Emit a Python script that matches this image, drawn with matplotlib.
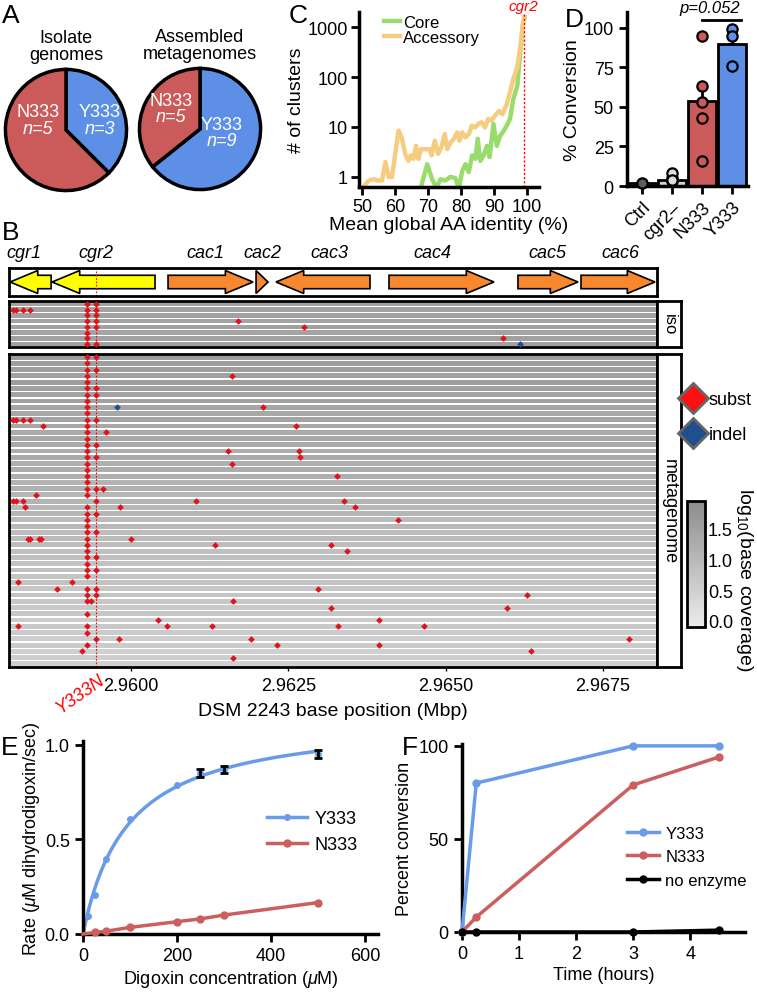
import numpy as np
import matplotlib
matplotlib.use('Agg')
import matplotlib.pyplot as plt
from matplotlib.patches import FancyArrow
from matplotlib.colors import LinearSegmentedColormap, Normalize
from matplotlib.cm import ScalarMappable
from matplotlib.lines import Line2D

plt.rcParams['font.family'] = ['Liberation Sans', 'DejaVu Sans']
plt.rcParams['mathtext.fontset'] = 'custom'
plt.rcParams['mathtext.rm'] = 'Liberation Sans'
plt.rcParams['mathtext.it'] = 'Liberation Sans:italic'

RED = '#CB5B5B'
BLUE = '#5D8FE6'

# ---------------- data ----------------
# A: pie counts (Y333, N333)
iso_counts = [3, 5]
meta_counts = [9, 5]

# C: number of clusters vs mean global AA identity
acc_x = [50, 52, 53.5, 54.5, 56, 57, 58, 59, 61, 62, 63, 64, 64.7, 65.5, 66.3, 67, 67.8,
         69, 70.5, 71, 72, 73, 74, 75, 75.8, 76.8, 77.8, 78.8, 79.5, 80.3, 81.3, 82.3,
         83.2, 84.2, 85.2, 86.2, 87.2, 88.2, 89.2, 90.2, 91.5, 92.5, 93.7, 94.8, 95.8,
         97, 98, 98.8, 99.2]
acc_y = [0.6, 0.85, 0.9, 0.85, 0.85, 2, 1, 1, 8.5, 6, 2.9, 2.1, 2.7, 2.3, 4.2, 2.3, 3.6,
         3.6, 3.6, 2.7, 5.3, 2.9, 3.9, 7.2, 3.6, 4.9, 5.8, 7.8, 5.3, 7.8, 6.2, 7.2,
         10.6, 9.8, 11.5, 12.4, 9.8, 14.5, 13.4, 16.8, 21, 18, 27, 50, 91,
         158, 420, 1260, 1600]
core_x = [67.7, 69.7, 71.2, 72.5, 73.7, 75.2, 76.7, 78.2, 79.3, 80.3, 81.3, 82.3, 83.3,
          84.3, 85, 85.8, 86.8, 87.8, 88.6, 89.8, 90.8, 91.8, 92.7, 93.6, 94.8, 95.8,
          97, 98, 98.8, 99.2]
core_y = [0.6, 1.8, 0.9, 0.6, 0.9, 0.85, 1.0, 0.95, 0.6, 1.3, 1.8, 1.25, 2.7,
          2.3, 5.8, 2.1, 2.7, 4.2, 2.5, 11.5, 4.2, 6.6, 8, 10, 14.5, 36,
          66, 360, 1260, 1500]
cgr2_identity = 99

# D: % conversion
d_groups = ['Ctrl', 'cgr2–', 'N333', 'Y333']
d_means = [2, 4, 54, 90]
d_err = [0, 1.5, 10, 7]
d_points = [[2], [3, 5, 8, 4], [95, 63, 53, 43, 16], [99, 95, 76]]
d_bar_colors = ['#8a8a8a', '#d4d4d4', RED, BLUE]
d_pt_colors = ['#5e5e5e', '#dedede', RED, BLUE]
p_label = 'p=0.052'

# B: gene track (Mbp)
gene_names = ['cgr1', 'cgr2', 'cac1', 'cac2', 'cac3', 'cac4', 'cac5', 'cac6']
gene_start = [2.958729, 2.960381, 2.960588, 2.961987, 2.963798, 2.964100, 2.966150, 2.967152]
gene_end = [2.958077, 2.958744, 2.961939, 2.962177, 2.962304, 2.965769, 2.967104, 2.968328]
gene_colors = ['#FFFF00', '#FFFF00', '#F7882F', '#F7882F', '#F7882F', '#F7882F', '#F7882F', '#F7882F']
gene_label_pos = [2.958290, 2.959444, 2.961176, 2.962082, 2.963147, 2.964785, 2.966612, 2.967772]
y333n_pos = 2.959444
b_xlim = (2.95806, 2.96836)
b_ticks = [2.96, 2.9625, 2.965, 2.9675]
b_ticklabels = ['2.9600', '2.9625', '2.9650', '2.9675']

iso_cov = [1.5, 1.45, 1.5, 1.45, 1.5, 1.45, 1.5, 1.5]
meta_cov = [1.6, 1.55, 1.55, 1.5, 1.55, 1.5, 1.45, 1.5, 1.4, 1.35,
            1.45, 1.35, 1.3, 1.35, 1.3, 1.25, 1.3, 1.2, 1.25, 1.2,
            1.1, 1.15, 1.05, 1.1, 1.0, 1.05, 0.95, 1.0, 0.9, 0.95,
            0.9, 0.85, 0.85, 0.8, 0.85, 0.75, 0.8, 0.7, 0.75, 0.7,
            0.65, 0.7, 0.6, 0.65, 0.6, 0.55, 0.6, 0.5, 0.55, 0.5]

iso_subst_row = [0, 0, 1, 1, 1, 1, 1, 1, 2, 2, 3, 3, 3, 4, 4, 4, 5, 6, 7, 7, 6]
iso_subst_pos = [2.959301, 2.959444, 2.958125, 2.958172, 2.958284, 2.958395, 2.959301, 2.959444,
                 2.959301, 2.959444, 2.959301, 2.959444, 2.961701, 2.959301, 2.959444, 2.962749,
                 2.959301, 2.959301, 2.959301, 2.959444, 2.965912]
iso_indel_row = [7]
iso_indel_pos = [2.966182]

# metagenome substitutions (row, position)
meta_subst = [
    (0, 2.959301), (0, 2.959444), (1, 2.959301), (2, 2.959301), (2, 2.959444),
    (3, 2.959301), (3, 2.961605), (4, 2.959301), (5, 2.959301), (5, 2.959444),
    (6, 2.959301), (6, 2.959444), (7, 2.959301), (8, 2.959301), (8, 2.962098),
    (9, 2.959301),
    (10, 2.958125), (10, 2.958172), (10, 2.958284), (10, 2.958395), (10, 2.959301), (10, 2.959444),
    (11, 2.958601), (11, 2.959301), (11, 2.962622), (12, 2.959301), (12, 2.959603),
    (13, 2.959301), (14, 2.959301), (14, 2.959444), (15, 2.959301), (15, 2.961542),
    (15, 2.962670), (16, 2.959301), (16, 2.959444), (16, 2.962686), (17, 2.959301),
    (17, 2.961605), (18, 2.959301), (19, 2.959301), (19, 2.963274),
    (20, 2.959301), (21, 2.959301), (21, 2.959444), (21, 2.959555), (22, 2.958490),
    (22, 2.959301), (23, 2.958125), (23, 2.958172), (23, 2.958284), (23, 2.959444),
    (23, 2.961033), (23, 2.963385), (24, 2.958315), (24, 2.959301), (24, 2.959825),
    (24, 2.963560), (25, 2.959301), (25, 2.959444), (26, 2.959301), (26, 2.964243),
    (27, 2.959301), (28, 2.959301), (28, 2.959444),
    (29, 2.958363), (29, 2.958395), (29, 2.958538), (29, 2.958570), (29, 2.959301),
    (29, 2.960000), (30, 2.959301), (30, 2.961335), (30, 2.963179), (31, 2.959301),
    (31, 2.963433), (32, 2.959301),
    (32, 2.959444), (33, 2.959301), (34, 2.959301), (34, 2.959444), (35, 2.959301),
    (36, 2.958204), (36, 2.959062), (37, 2.958824), (37, 2.959301), (37, 2.959444),
    (37, 2.962972), (38, 2.959301), (38, 2.959444), (38, 2.966294), (39, 2.959301),
    (39, 2.959364), (39, 2.961621), (40, 2.963179), (40, 2.965976), (41, 2.959301),
    (42, 2.960429), (42, 2.963941), (43, 2.958204), (43, 2.959301), (43, 2.960572),
    (43, 2.961287), (43, 2.963290), (43, 2.964657), (44, 2.959301), (45, 2.959444),
    (45, 2.959809), (45, 2.961907), (45, 2.967915), (46, 2.959301), (46, 2.962320),
    (46, 2.963941), (47, 2.959221), (47, 2.966357), (48, 2.961621),
]
meta_indel = [(8, 2.959778)]

# E: kinetics
conc_y333 = [10, 25, 50, 100, 200, 250, 300, 500]
rate_y333 = [0.097, 0.207, 0.395, 0.61, 0.79, 0.85, 0.87, 0.95]
err_y333 = [0, 0, 0, 0, 0, 0.02, 0.02, 0.02]
vmax_y333, km_y333 = 1.15, 95
conc_n333 = [0, 25, 50, 100, 200, 250, 300, 500]
rate_n333 = [0, 0.008, 0.015, 0.035, 0.065, 0.08, 0.10, 0.166]

# F: time course
time_h = [0, 0.25, 3, 4.5]
conv_y333 = [0, 80, 100, 100]
conv_n333 = [0, 8, 79, 94]
conv_none = [0, 0, 0, 1]

# ---------------- layout helpers ----------------
W, H = 757, 995
fig = plt.figure(figsize=(W / 100, H / 100), dpi=100)


def box(l, t, r, b):
    return fig.add_axes([l / W, 1 - b / H, (r - l) / W, (b - t) / H])


def ftext(x, y, s, **kw):
    return fig.text(x / W, 1 - y / H, s, **kw)


def prism(ax, lw=2.5):
    for s in ['top', 'right']:
        ax.spines[s].set_visible(False)
    for s in ['left', 'bottom']:
        ax.spines[s].set_linewidth(lw)
    ax.tick_params(width=2, length=6, direction='out', labelsize=13)


# ---------------- A ----------------
ftext(2, 4, 'A', fontsize=19, va='top')
for (l, t, r, b), counts, title, txt in [
        ((3, 68, 129, 194), iso_counts, 'Isolate\ngenomes',
         [(-0.46, 0.3, 'N333', 'normal'), (-0.46, 0.03, 'n=5', 'italic'),
          (0.56, 0.3, 'Y333', 'normal'), (0.56, 0.03, 'n=3', 'italic')]),
        ((137, 67, 263, 193), meta_counts, 'Assembled\nmetagenomes',
         [(-0.48, 0.47, 'N333', 'normal'), (-0.48, 0.2, 'n=5', 'italic'),
          (0.36, 0.08, 'Y333', 'normal'), (0.36, -0.19, 'n=9', 'italic')])]:
    ax = box(l, t, r, b)
    ax.pie(counts, colors=[BLUE, RED], startangle=90, counterclock=False,
           wedgeprops=dict(edgecolor='black', linewidth=2.5))
    ax.set_xlim(-1.04, 1.04)
    ax.set_ylim(-1.04, 1.04)
    for x, y, s, st in txt:
        ax.text(x, y, s, color='white', fontsize=13, style=st, ha='center', va='center')
    ax.text(0, 1.1, title, ha='center', va='bottom', fontsize=13, linespacing=1.05)

# ---------------- C ----------------
ax = box(359, 13, 539, 188)
ax.plot(core_x, core_y, color='#9ADC6C', lw=3.2, label='Core', solid_joinstyle='round')
ax.plot(acc_x, acc_y, color='#F6CC80', lw=3.2, label='Accessory', solid_joinstyle='round')
ax.set_yscale('log')
ax.set_ylim(0.63, 2000)
ax.set_xlim(49, 103.6)
ax.axvline(cgr2_identity, color='red', ls=(0, (1.5, 1.5)), lw=1)
ax.text(cgr2_identity, 1950, 'cgr2', color='red', style='italic', fontsize=11,
        ha='center', va='bottom')
prism(ax)
ax.set_yticks([1, 10, 100, 1000])
ax.set_yticklabels(['1', '10', '100', '1000'])
ax.minorticks_off()
ax.set_xticks([50, 60, 70, 80, 90, 100])
ax.tick_params(labelsize=13, pad=2)
ax.set_ylabel('# of clusters', fontsize=14, labelpad=2)
ax.set_xlabel('Mean global AA identity (%)', fontsize=14, labelpad=1)
ax.legend(loc='upper left', bbox_to_anchor=(0.1, 1.02), frameon=False, fontsize=12,
          handlelength=1.0, handletextpad=0.15, labelspacing=0.0, borderaxespad=0)
ftext(289, 4, 'C', fontsize=19, va='top')

# ---------------- D ----------------
ax = box(627, 13, 748, 187)
xs = np.arange(len(d_groups))
ax.bar(xs, d_means, width=0.94, color=d_bar_colors, edgecolor='black', linewidth=2)
for i, (m, e) in enumerate(zip(d_means, d_err)):
    if e > 0:
        ax.errorbar(xs[i], m, yerr=[[0], [e]], color='black', lw=2, capsize=3, capthick=2)
    pts = d_points[i]
    ax.scatter([xs[i]] * len(pts), pts, s=55, facecolor=d_pt_colors[i],
               edgecolor='black', linewidth=1.6, zorder=5, clip_on=False)
ax.set_xlim(-0.5, 3.53)
ax.set_ylim(0, 110)
prism(ax)
ax.set_yticks([0, 25, 50, 75, 100])
ax.set_xticks(xs)
ax.set_xticklabels(d_groups, rotation=45, ha='right', rotation_mode='anchor', fontsize=13)
ax.tick_params(axis='x', pad=3)
ax.set_ylabel('% Conversion', fontsize=14, labelpad=2)
ax.plot([2.0, 3.3], [105, 105], color='black', lw=2, clip_on=False)
ax.text(2.25, 108, p_label, style='italic', fontsize=12, ha='center', va='bottom')
ftext(565, 8, 'D', fontsize=19, va='top')

# ---------------- B ----------------
ftext(2, 221, 'B', fontsize=19, va='top')
cmap = LinearSegmentedColormap.from_list('cov', ['#ececec', '#8c8c8c'])
norm = Normalize(-0.1, 1.95)

# gene track
ax = box(9, 269, 657, 297)
for s, e, c in zip(gene_start, gene_end, gene_colors):
    length = e - s
    hl = min(0.00044, abs(length))
    ax.add_patch(FancyArrow(s, 0.5, length, 0, width=0.48, head_width=0.82,
                            head_length=hl, length_includes_head=True,
                            facecolor=c, edgecolor='black', lw=1.2))
for name, x in zip(gene_names, gene_label_pos):
    ax.text(x, 1.25, name, style='italic', fontsize=13, ha='center', va='bottom')
ax.axvline(y333n_pos, color='red', ls=(0, (1.5, 1.5)), lw=0.8)
ax.set_xlim(*b_xlim)
ax.set_ylim(0, 1)
ax.set_xticks([])
ax.set_yticks([])
for s in ax.spines.values():
    s.set_linewidth(2)


def coverage_panel(rect, strip_rect, cov, subst, indel, label, label_size):
    ax = box(*rect)
    n = len(cov)
    ax.barh(np.arange(n), b_xlim[1] - b_xlim[0], left=b_xlim[0], height=0.78,
            color=cmap(norm(np.array(cov))), zorder=1)
    ax.axvline(y333n_pos, color='red', ls=(0, (1.5, 1.5)), lw=0.8, zorder=2)
    if subst:
        r, p = zip(*subst)
        ax.plot(p, r, 'D', ms=3.4, color='#E3121A', mec='none', ls='none', zorder=3)
    if indel:
        r, p = zip(*indel)
        ax.plot(p, r, 'D', ms=3.4, color='#1F4F8F', mec='none', ls='none', zorder=3)
    ax.set_xlim(*b_xlim)
    ax.set_ylim(n - 0.5, -0.5)
    ax.set_yticks([])
    for s in ax.spines.values():
        s.set_linewidth(2)
    sx = box(*strip_rect)
    sx.set_xticks([])
    sx.set_yticks([])
    for s in sx.spines.values():
        s.set_linewidth(2)
    sx.text(0.5, 0.5, label, rotation=270, ha='center', va='center', fontsize=label_size,
            transform=sx.transAxes)
    return ax


ax_iso = coverage_panel((9, 302, 657, 348), (657, 302, 681, 348), iso_cov,
                        list(zip(iso_subst_row, iso_subst_pos)),
                        list(zip(iso_indel_row, iso_indel_pos)), 'iso', 12)
ax_iso.set_xticks([])
ax_meta = coverage_panel((9, 355, 657, 668), (657, 355, 681, 668), meta_cov,
                         meta_subst, meta_indel, 'metagenome', 13)
ax_meta.set_xticks(b_ticks)
ax_meta.set_xticklabels(b_ticklabels, fontsize=13)
ax_meta.tick_params(axis='x', length=3, width=1, pad=4)
ax_meta.set_xlabel('DSM 2243 base position (Mbp)', fontsize=14, labelpad=6)
ax_meta.annotate('Y333N', xy=(y333n_pos, 0), xycoords=('data', 'axes fraction'),
                 xytext=(1, -3), textcoords='offset points', color='red', style='italic',
                 fontsize=13, rotation=35, ha='right', va='top', rotation_mode='anchor')

# legend for markers
handles = [Line2D([], [], marker='D', ms=15, mfc='#FF1010', mec='#666666', mew=2, ls='none'),
           Line2D([], [], marker='D', ms=15, mfc='#1F4F8F', mec='#666666', mew=2, ls='none')]
fig.legend(handles, ['subst', 'indel'], loc='upper left',
           bbox_to_anchor=(683 / W, 1 - 392 / H), frameon=False, fontsize=13,
           handlelength=1.1, handletextpad=0.3, labelspacing=1.0, borderaxespad=0,
           borderpad=0)

# colorbar
cax = box(687, 502, 705, 628)
cb = fig.colorbar(ScalarMappable(norm=norm, cmap=cmap), cax=cax)
cb.set_ticks([0, 0.5, 1.0, 1.5])
cb.set_ticklabels(['0.0', '0.5', '1.0', '1.5'])
cb.ax.tick_params(labelsize=13, length=0, pad=2)
cb.outline.set_linewidth(2)
ftext(744, 580, 'log$_{10}$(base coverage)', rotation=270, ha='center', va='center',
      fontsize=14)

# ---------------- E ----------------
ax = box(83, 742, 378, 935)
xfit = np.linspace(0, max(conc_y333), 200)
ax.plot(xfit, vmax_y333 * xfit / (km_y333 + xfit), color='#6A9BEA', lw=2.5)
ax.plot(conc_y333, rate_y333, 'o', color='#6A9BEA', ms=4, zorder=4)
has_err = [i for i, e in enumerate(err_y333) if e > 0]
ax.errorbar([conc_y333[i] for i in has_err], [rate_y333[i] for i in has_err],
            yerr=[err_y333[i] for i in has_err], fmt='none', ecolor='black', lw=2,
            capsize=3, capthick=2, zorder=5)
ax.plot(conc_n333, rate_n333, color='#CC5E5E', lw=2.5, marker='o', ms=5, zorder=4,
        clip_on=False, markevery=list(range(1, len(conc_n333))))
ax.set_xlim(0, 628)
ax.set_ylim(0, 1.02)
prism(ax)
ax.set_xticks([0, 200, 400, 600])
ax.set_yticks([0, 0.5, 1.0])
ax.set_yticklabels(['0.0', '0.5', '1.0'])
ax.set_ylabel('Rate ($\\mu$M dihydrodigoxin/sec)', fontsize=13, labelpad=2)
ax.set_xlabel('Digoxin concentration ($\\mu$M)', fontsize=13, labelpad=3)
eh = [Line2D([], [], color='#6A9BEA', lw=2.5, marker='o', ms=4),
      Line2D([], [], color='#CC5E5E', lw=2.5, marker='o', ms=5)]
ax.legend(eh, ['Y333', 'N333'], loc='upper left', bbox_to_anchor=(0.6, 0.68),
          frameon=False, fontsize=13, handlelength=2.2, handletextpad=0.4,
          labelspacing=0.5, borderaxespad=0)
ftext(1, 736, 'E', fontsize=19, va='top')

# ---------------- F ----------------
ax = box(462, 745, 745, 933)
ax.plot(time_h, conv_y333, color='#6A9BEA', lw=2.5, marker='o', ms=5, clip_on=False,
        label='Y333', zorder=4)
ax.plot(time_h, conv_n333, color='#CC5E5E', lw=2.5, marker='o', ms=5, clip_on=False,
        label='N333', zorder=3)
ax.plot(time_h, conv_none, color='black', lw=2.5, marker='o', ms=5, clip_on=False,
        label='no enzyme', zorder=5)
ax.set_xlim(0, 4.96)
ax.set_ylim(0, 101)
prism(ax)
ax.set_xticks([0, 1, 2, 3, 4])
ax.set_yticks([0, 50, 100])
ax.set_ylabel('Percent conversion', fontsize=13, labelpad=4)
ax.set_xlabel('Time (hours)', fontsize=13, labelpad=3)
ax.legend(loc='upper left', bbox_to_anchor=(0.56, 0.6), frameon=False, fontsize=12,
          handlelength=1.9, handletextpad=0.4, labelspacing=0.5, borderaxespad=0)
ftext(402, 736, 'F', fontsize=19, va='top')

fig.savefig('out.png', dpi=100)
